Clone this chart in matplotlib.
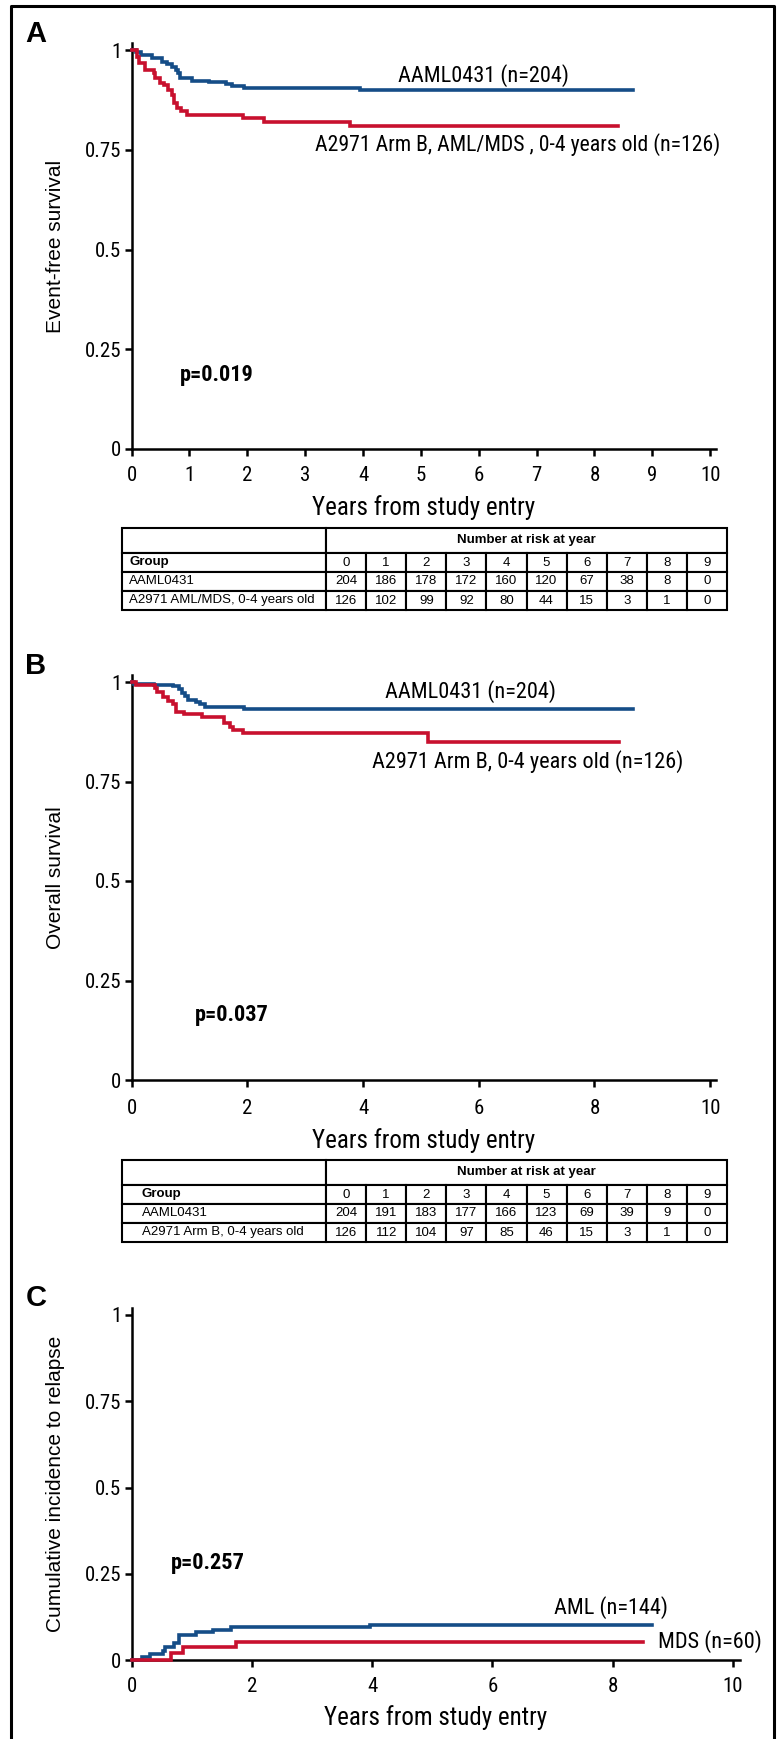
import matplotlib
matplotlib.use("Agg")
import matplotlib.pyplot as plt
from matplotlib import font_manager
from matplotlib.lines import Line2D
from matplotlib.table import Table

installed = {f.name for f in font_manager.fontManager.ttflist}
NARROW = next((n for n in ["Liberation Sans Narrow", "Roboto Condensed",
                           "Open Sans Condensed", "Arial Narrow"] if n in installed),
              "Liberation Sans")
REGULAR = "Liberation Sans" if "Liberation Sans" in installed else "DejaVu Sans"

plt.rcParams["font.family"] = [NARROW, "DejaVu Sans"]
plt.rcParams["axes.linewidth"] = 1.8

BLUE = "#154d87"
RED = "#c8102e"

# A: event-free survival
efs_aaml_t = [0, 0.08, 0.17, 0.35, 0.52, 0.61, 0.70, 0.76, 0.80, 0.84, 1.05, 1.33,
              1.64, 1.73, 1.94, 3.95, 8.67]
efs_aaml_v = [1.0, 0.995, 0.987, 0.980, 0.970, 0.964, 0.958, 0.950, 0.942, 0.930,
              0.923, 0.919, 0.914, 0.910, 0.904, 0.899, 0.899]
efs_a2971_t = [0, 0.09, 0.12, 0.23, 0.38, 0.41, 0.49, 0.56, 0.63, 0.69, 0.73, 0.78,
               0.86, 0.95, 1.93, 2.28, 3.78, 8.41]
efs_a2971_v = [1.0, 0.983, 0.967, 0.950, 0.942, 0.929, 0.918, 0.912, 0.900, 0.887,
               0.866, 0.854, 0.846, 0.837, 0.829, 0.820, 0.810, 0.810]

# B: overall survival
os_aaml_t = [0, 0.05, 0.38, 0.72, 0.82, 0.87, 0.92, 0.98, 1.12, 1.19, 1.27, 1.94, 8.67]
os_aaml_v = [1.0, 0.996, 0.992, 0.989, 0.983, 0.972, 0.965, 0.955, 0.950, 0.944,
             0.936, 0.931, 0.931]
os_a2971_t = [0, 0.08, 0.40, 0.44, 0.55, 0.63, 0.72, 0.77, 0.91, 1.21, 1.59, 1.70,
              1.76, 1.93, 5.13, 8.42]
os_a2971_v = [1.0, 0.992, 0.984, 0.976, 0.963, 0.953, 0.945, 0.925, 0.919, 0.911,
              0.896, 0.888, 0.879, 0.871, 0.848, 0.848]

# C: cumulative incidence of relapse
cir_aml_t = [0, 0.17, 0.30, 0.52, 0.56, 0.70, 0.79, 1.07, 1.36, 1.65, 3.96, 8.65]
cir_aml_v = [0, 0.008, 0.016, 0.027, 0.039, 0.048, 0.072, 0.080, 0.087, 0.095,
             0.101, 0.101]
cir_mds_t = [0, 0.66, 0.85, 1.74, 8.51]
cir_mds_v = [0, 0.019, 0.037, 0.051, 0.051]

# numbers at risk
years = list(range(10))
efs_groups = ["AAML0431", "A2971 AML/MDS, 0-4 years old"]
efs_risk = [[204, 186, 178, 172, 160, 120, 67, 38, 8, 0],
            [126, 102, 99, 92, 80, 44, 15, 3, 1, 0]]
os_groups = ["AAML0431", "A2971 Arm B, 0-4 years old"]
os_risk = [[204, 191, 183, 177, 166, 123, 69, 39, 9, 0],
           [126, 112, 104, 97, 85, 46, 15, 3, 1, 0]]

yticks = [0, 0.25, 0.5, 0.75, 1]
ytick_labels = ["0", "0.25", "0.5", "0.75", "1"]

W, H = 779, 1739
fig = plt.figure(figsize=(W / 100, H / 100), dpi=100)


def px_axes(left, top, right, bottom):
    return fig.add_axes([left / W, 1 - bottom / H, (right - left) / W, (bottom - top) / H])


def km_panel(box, xmax, ymax, xstep, curves, ylabel, ylabel_x, xlabel_y, xpad):
    ax = px_axes(*box)
    for t, v, col in curves:
        ax.step(t, v, where="post", color=col, lw=2.6, zorder=3, clip_on=False,
                solid_joinstyle="miter")
    ax.set_xlim(0, xmax)
    ax.set_ylim(0, ymax)
    ax.set_xticks(list(range(0, 11, xstep)))
    ax.set_yticks(yticks)
    ax.set_yticklabels(ytick_labels)
    ax.spines["top"].set_visible(False)
    ax.spines["right"].set_visible(False)
    ax.tick_params(direction="out", length=5, width=1.8, labelsize=15)
    ax.tick_params(axis="x", pad=xpad)
    ax.tick_params(axis="y", pad=2.5)
    ax.set_ylabel(ylabel, fontsize=15, family=REGULAR)
    ax.yaxis.set_label_coords(ylabel_x, 0.5)
    ax.set_xlabel("Years from study entry", fontsize=18)
    ax.xaxis.set_label_coords(0.5, xlabel_y)
    return ax


def risk_table(top, groups, risk, pad):
    ax = px_axes(122, top, 727, top + 82)
    ax.set_axis_off()
    head = Table(ax, bbox=[0, 57 / 82, 1, 25 / 82])
    head.add_cell(0, 0, 204, 25, text="")
    head.add_cell(0, 1, 401, 25, text="Number at risk at year", loc="center")
    body = Table(ax, bbox=[0, 0, 1, 57 / 82])
    rows = [["Group"] + [str(y) for y in years]]
    rows += [[g] + [str(n) for n in r] for g, r in zip(groups, risk)]
    for i, row in enumerate(rows):
        for j, txt in enumerate(row):
            cell = body.add_cell(i, j, 204 if j == 0 else 40.1, 19, text=txt,
                                 loc="left" if j == 0 else "center")
            if j == 0:
                cell.PAD = pad
    for tab in (head, body):
        tab.auto_set_font_size(False)
        tab.set_fontsize(9.5)
        for cell in tab.get_celld().values():
            cell.set_linewidth(1.5)
            cell.get_text().set_fontfamily(REGULAR)
        ax.add_table(tab)
    head[0, 1].get_text().set_fontweight("bold")
    body[0, 0].get_text().set_fontweight("bold")


# panel A
axA = km_panel((131.6, 43, 716, 449), 10.1, 406 / 399, 1,
               [(efs_aaml_t, efs_aaml_v, BLUE), (efs_a2971_t, efs_a2971_v, RED)],
               "Event-free survival", -0.114, -0.113, 7)
axA.text(6.08, 0.937, "AAML0431 (n=204)", fontsize=16, ha="center", va="center")
axA.text(6.68, 0.764, "A2971 Arm B, AML/MDS , 0-4 years old (n=126)", fontsize=15.7,
         ha="center", va="center")
axA.text(1.48, 0.185, "p=0.019", fontsize=16, fontweight="bold", ha="center", va="center")
risk_table(528, efs_groups, efs_risk, 0.035)

# panel B
axB = km_panel((131.6, 675, 716, 1080), 10.1, 405 / 398, 2,
               [(os_aaml_t, os_aaml_v, BLUE), (os_a2971_t, os_a2971_v, RED)],
               "Overall survival", -0.114, -0.1185, 9)
axB.text(5.85, 0.977, "AAML0431 (n=204)", fontsize=16, ha="center", va="center")
axB.text(6.84, 0.799, "A2971 Arm B, 0-4 years old (n=126)", fontsize=16,
         ha="center", va="center")
axB.text(1.74, 0.163, "p=0.037", fontsize=16, fontweight="bold", ha="center", va="center")
risk_table(1160, os_groups, os_risk, 0.098)

# panel C
axC = km_panel((131.6, 1308, 740, 1660), 10.116, 352 / 345, 2,
               [(cir_aml_t, cir_aml_v, BLUE), (cir_mds_t, cir_mds_v, RED)],
               "Cumulative incidence to relapse", -0.1095, -0.128, 7.5)
axC.text(7.97, 0.151, "AML (n=144)", fontsize=16, ha="center", va="center")
axC.text(9.62, 0.055, "MDS (n=60)", fontsize=16, ha="center", va="center")
axC.text(1.27, 0.281, "p=0.257", fontsize=16, fontweight="bold", ha="center", va="center")

# panel letters
for letter, y in [("A", 34), ("B", 666), ("C", 1298)]:
    fig.text(36 / W, 1 - y / H, letter, fontsize=21, fontweight="bold", family=REGULAR,
             ha="center", va="center")

# outer frame, open at the bottom
x0, x1, ytop = 10.5 / W, 773.5 / W, 1 - 5.5 / H
fig.add_artist(Line2D([x0, x0, x1, x1], [-0.01, ytop, ytop, -0.01], color="black",
                      lw=2.2, transform=fig.transFigure))

fig.savefig("out.png", dpi=100)
